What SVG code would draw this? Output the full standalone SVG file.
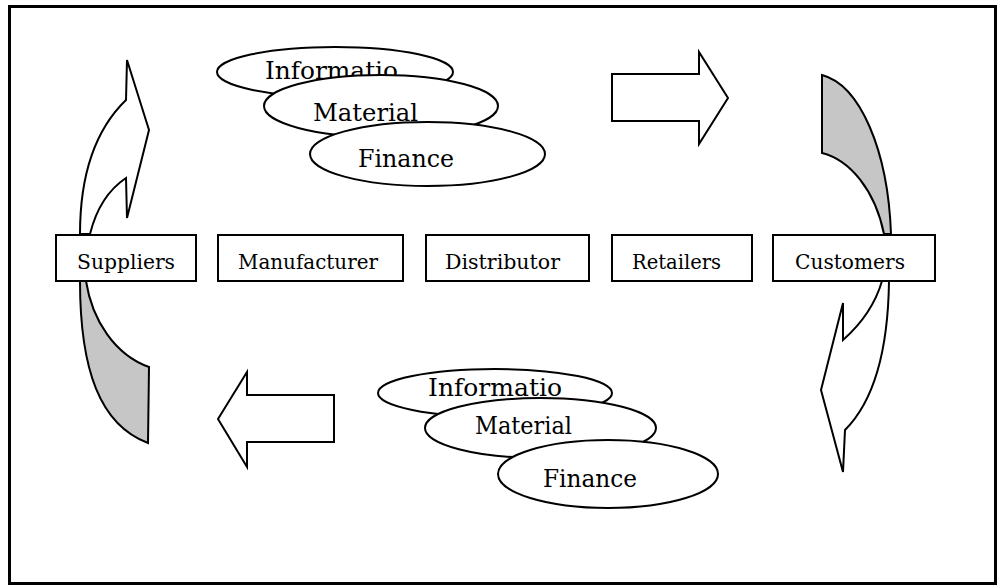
<svg xmlns="http://www.w3.org/2000/svg" width="998" height="586" viewBox="0 0 998 586">
  <style>
    .frame { fill: #ffffff; stroke: #000; stroke-width: 3; }
    .box { fill: #ffffff; stroke: #000; stroke-width: 2; }
    .oval { fill: #ffffff; stroke: #000; stroke-width: 2; }
    .outline { fill: #ffffff; stroke: #000; stroke-width: 2; stroke-linejoin: miter; }
    .shaded { fill: #c6c6c6; stroke: #000; stroke-width: 2; stroke-linejoin: miter; }
    .lbl { font-family: "DejaVu Serif", "Liberation Serif", serif; font-size: 21px; fill: #000; }
    .big { font-family: "DejaVu Serif", "Liberation Serif", serif; font-size: 25px; fill: #000; }
  </style>

  <!-- outer border -->
  <rect class="frame" x="9.5" y="6.5" width="986" height="577"/>

  <!-- connectors: flow arrows -->
  <g id="connectors">
    <!-- curved arrow rising from Suppliers -->
    <path class="outline" d="M80,234 C80,175 95,130 126,100 L127,60 L149,130 L127,218 L126,178 C108,190 96,210 90,234 Z"/>
    <!-- shaded tail below Suppliers -->
    <path class="shaded" d="M80,281 C80,370 100,425 148,443 L149,367 C115,355 92,320 86,281 Z"/>
    <!-- shaded tail above Customers -->
    <path class="shaded" d="M822,75 L822,153 C850,160 875,190 884,234 L891,234 C888,150 860,85 822,75 Z"/>
    <!-- curved arrow descending from Customers -->
    <path class="outline" d="M889,281 C888,360 870,405 845,430 L843,472 L821,390 L843,303 L843,340 C860,325 875,305 882,281 Z"/>
    <!-- block arrow pointing right -->
    <path class="outline" d="M612,74 L699,74 L699,52 L728,98 L699,144 L699,121 L612,121 Z"/>
    <!-- block arrow pointing left -->
    <path class="outline" d="M334,395 L247,395 L247,372 L218,419 L247,467 L247,442 L334,442 Z"/>
  </g>

  <!-- upper flow group -->
  <g id="flow-top">
    <ellipse class="oval" cx="335" cy="72" rx="118" ry="25"/>
    <text class="big" x="265" y="79" textLength="133" lengthAdjust="spacingAndGlyphs">Informatio</text>
    <ellipse class="oval" cx="381" cy="106" rx="117" ry="31"/>
    <text class="big" x="313" y="121" textLength="105" lengthAdjust="spacingAndGlyphs">Material</text>
    <ellipse class="oval" cx="427.5" cy="154" rx="117.5" ry="32"/>
    <text class="big" x="358" y="167" textLength="96" lengthAdjust="spacingAndGlyphs">Finance</text>
  </g>

  <!-- lower flow group -->
  <g id="flow-bottom">
    <ellipse class="oval" cx="495" cy="393" rx="117" ry="24"/>
    <text class="big" x="428" y="396" textLength="134" lengthAdjust="spacingAndGlyphs">Informatio</text>
    <ellipse class="oval" cx="540.5" cy="428" rx="115.5" ry="30"/>
    <text class="big" x="475" y="434" textLength="97" lengthAdjust="spacingAndGlyphs">Material</text>
    <ellipse class="oval" cx="608" cy="474" rx="110" ry="34"/>
    <text class="big" x="543" y="487" textLength="94" lengthAdjust="spacingAndGlyphs">Finance</text>
  </g>

  <!-- supply chain stages -->
  <g id="suppliers">
    <rect class="box" x="56" y="235" width="140" height="46"/>
    <text class="lbl" x="77" y="269" textLength="98" lengthAdjust="spacingAndGlyphs">Suppliers</text>
  </g>
  <g id="manufacturer">
    <rect class="box" x="218" y="235" width="185" height="46"/>
    <text class="lbl" x="238" y="269" textLength="140" lengthAdjust="spacingAndGlyphs">Manufacturer</text>
  </g>
  <g id="distributor">
    <rect class="box" x="426" y="235" width="163" height="46"/>
    <text class="lbl" x="445" y="269" textLength="115" lengthAdjust="spacingAndGlyphs">Distributor</text>
  </g>
  <g id="retailers">
    <rect class="box" x="612" y="235" width="140" height="46"/>
    <text class="lbl" x="632" y="269" textLength="89" lengthAdjust="spacingAndGlyphs">Retailers</text>
  </g>
  <g id="customers">
    <rect class="box" x="773" y="235" width="162" height="46"/>
    <text class="lbl" x="795" y="269" textLength="110" lengthAdjust="spacingAndGlyphs">Customers</text>
  </g>
</svg>
